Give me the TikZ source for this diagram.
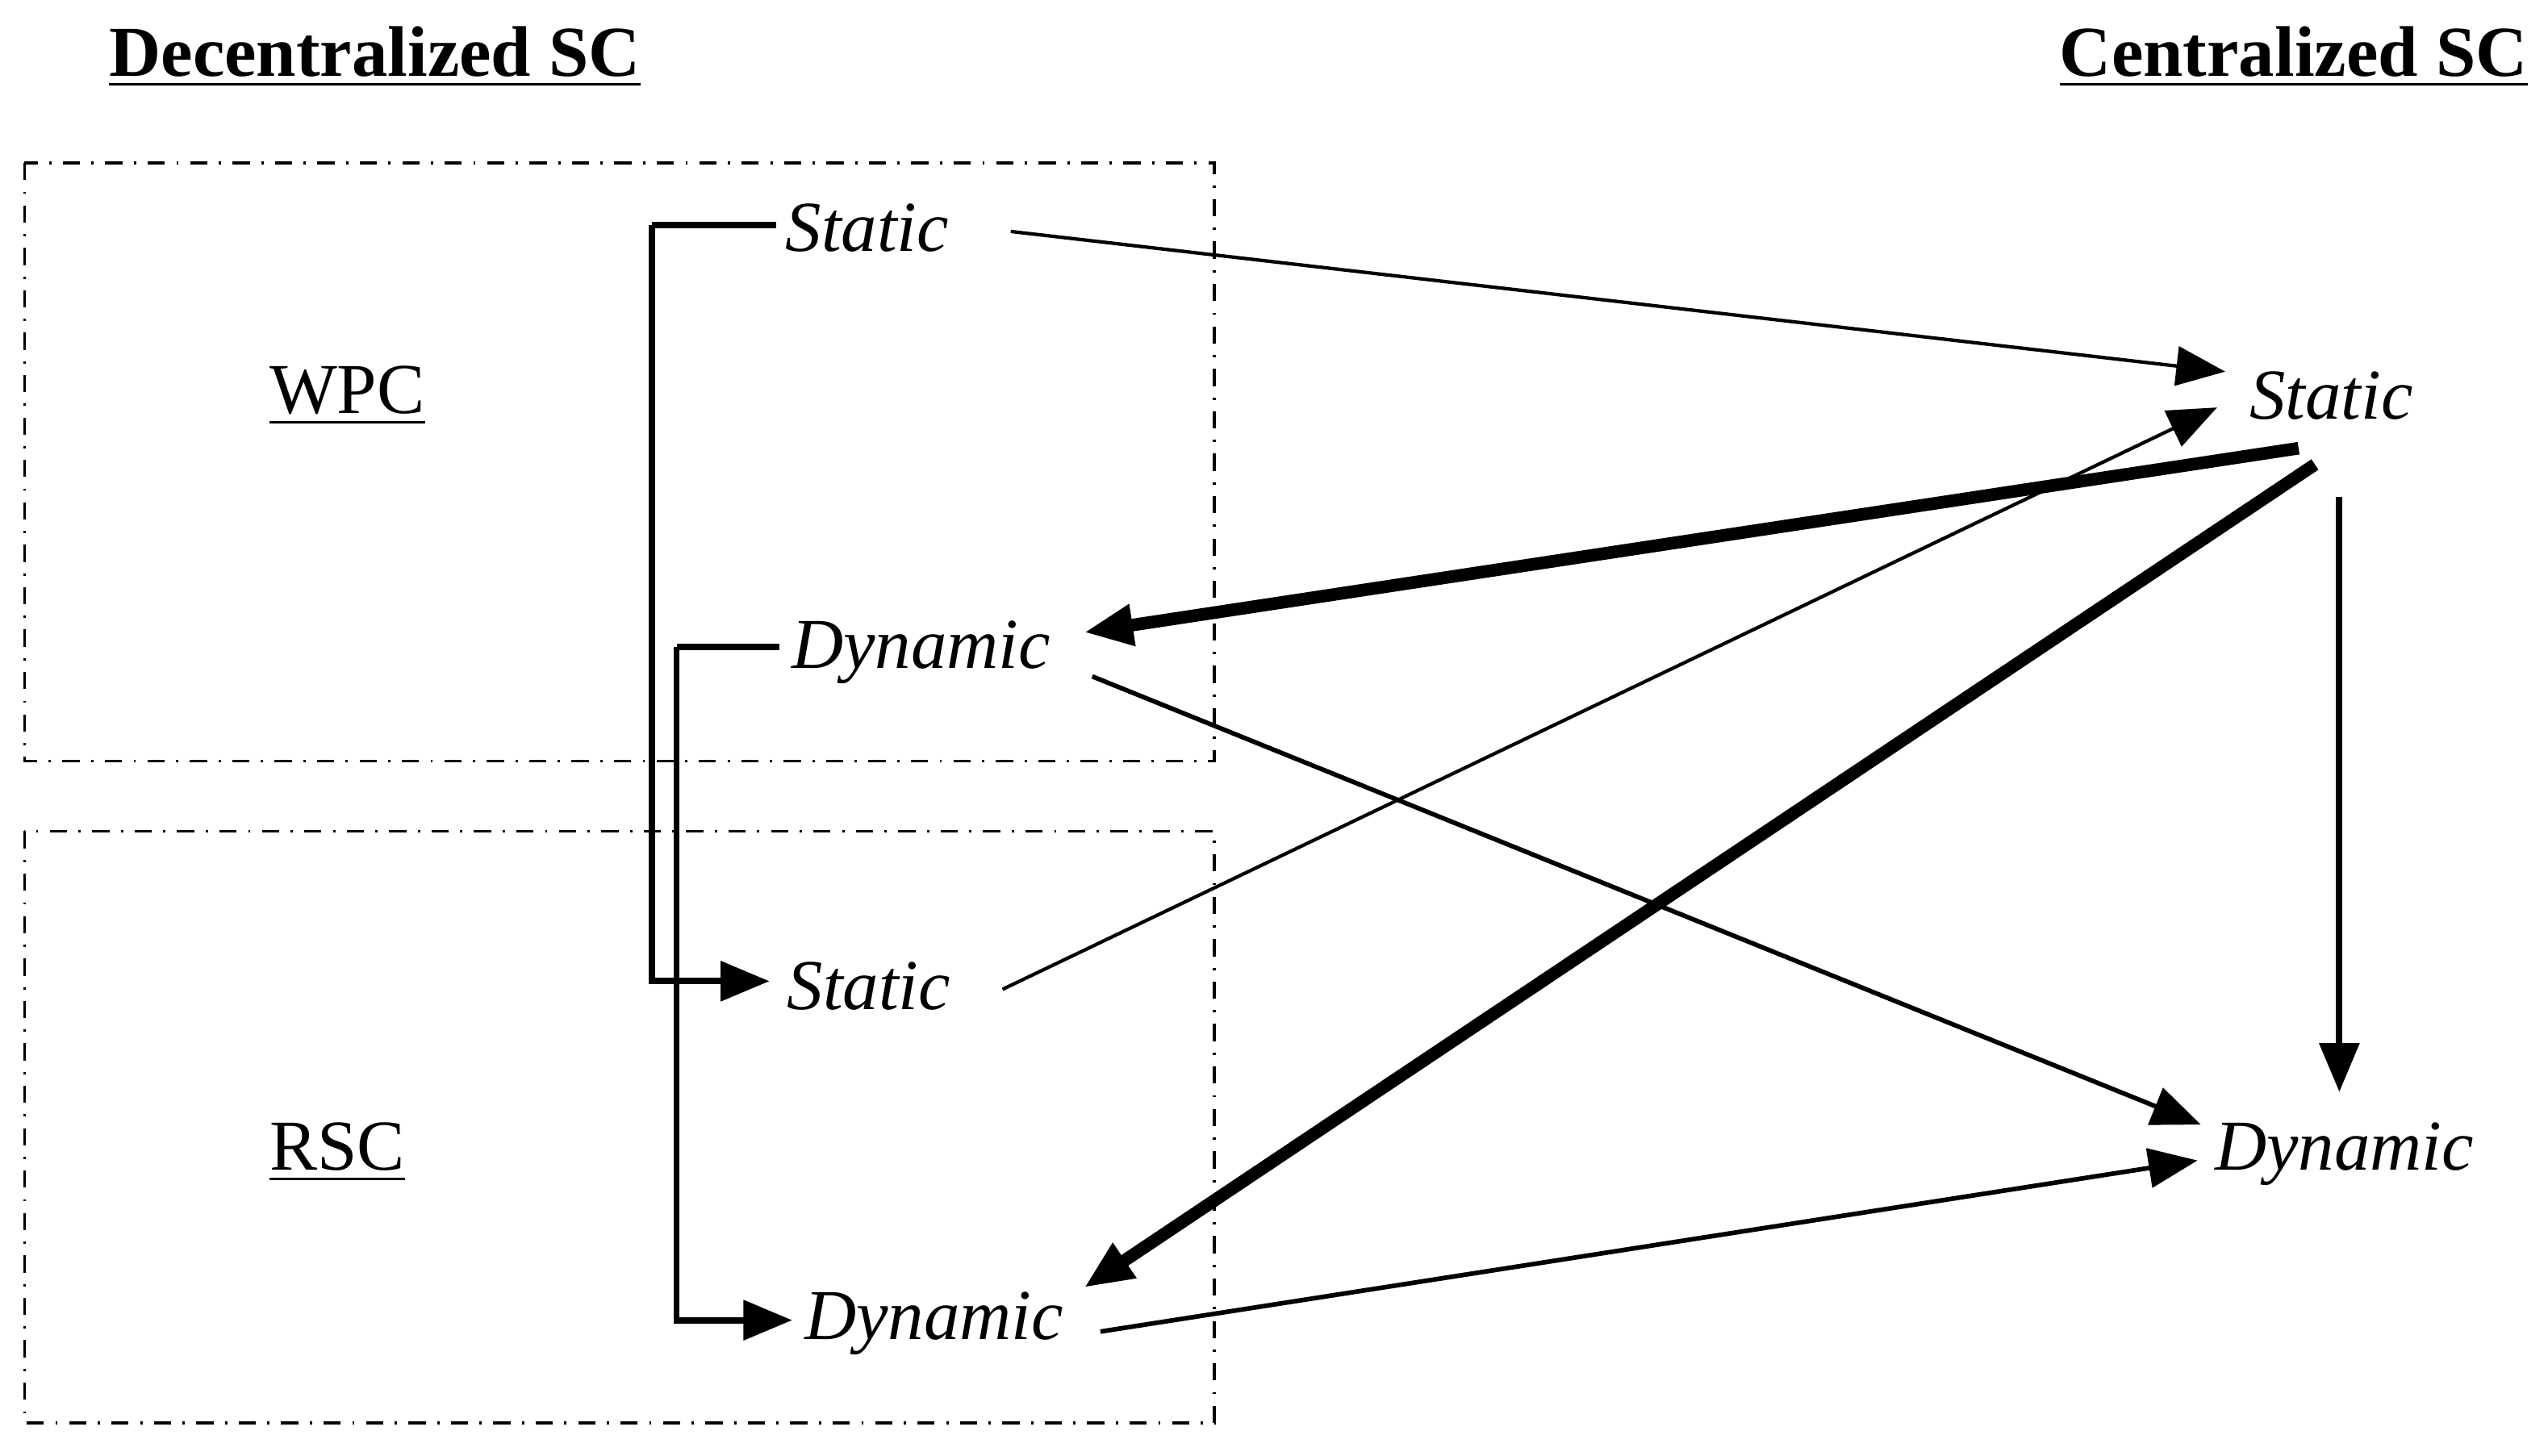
\documentclass[tikz,border=0pt]{standalone}
\usepackage{fontspec}
\setmainfont{Liberation Serif}
\usetikzlibrary{arrows.meta}
\begin{document}
\begin{tikzpicture}[x=0.01cm,y=-0.01cm,
  lbl/.style={font=\fontsize{12.5}{14}\selectfont\itshape,inner sep=0pt},
  ttl/.style={font=\fontsize{12.5}{14}\selectfont\bfseries,inner sep=0pt},
  grp/.style={font=\fontsize{12.5}{14}\selectfont,inner sep=0pt},
  boxs/.style={draw,dash dot,line width=0.5pt},
  tip/.style={-{Triangle[length=0.3cm,width=0.24cm]}},
  thin/.style={tip,line width=0.6pt},
  med/.style={tip,line width=1.1pt},
  thick/.style={tip,line width=2.2pt}]
\useasboundingbox (0,0) rectangle (1563,893);
\node[ttl] (t1) at (230,35) {\underline{Decentralized SC}};
\node[ttl] (t2) at (1407,35) {\underline{Centralized SC}};
\draw[boxs] (15,100) rectangle (745,467);
\draw[boxs] (15,510) rectangle (745,873);
\node[grp] (wpc) at (213,243) {\underline{WPC}};
\node[grp] (rsc) at (207,707) {\underline{RSC}};
\node[lbl] (s1) at (532,140) {Static};
\node[lbl] (d1) at (565,400) {Dynamic};
\node[lbl] (s2) at (533,605) {Static};
\node[lbl] (d2) at (573,812) {Dynamic};
\node[lbl] (sc) at (1430,243) {Static};
\node[lbl] (dc) at (1438,708) {Dynamic};
\coordinate (s1o) at (620,142);
\coordinate (s2o) at (615,607);
\coordinate (d1o) at (670,415);
\coordinate (d1i) at (665,388);
\coordinate (d2o) at (675,817);
\coordinate (d2i) at (665,790);
\coordinate (sci1) at (1365,228);
\coordinate (sci2) at (1360,250);
\coordinate (sco1) at (1410,275);
\coordinate (sco2) at (1420,285);
\coordinate (sco3) at (1435,305);
\coordinate (dci1) at (1435,670);
\coordinate (dci2) at (1350,690);
\coordinate (dci3) at (1348,712);
\coordinate (b1) at (400,138);
\coordinate (b2) at (415,397);
\coordinate (s1w) at (476,138);
\coordinate (d1w) at (478,397);
\coordinate (s2w) at (472,602);
\coordinate (d2w) at (486,810);
% brackets
\draw[line width=1.1pt] (s1w) -- (b1);
\draw[med] (b1) |- (s2w);
\draw[line width=1.1pt] (d1w) -- (b2);
\draw[med] (b2) |- (d2w);
% cross arrows
\draw[thin] (s1o) -- (sci1);
\draw[thin] (s2o) -- (sci2);
\draw[thick] (sco1) -- (d1i);
\draw[thick] (sco2) -- (d2i);
\draw[med] (sco3) -- (dci1);
\draw[thin,line width=0.8pt] (d1o) -- (dci2);
\draw[thin,line width=0.8pt] (d2o) -- (dci3);
\end{tikzpicture}
\end{document}
